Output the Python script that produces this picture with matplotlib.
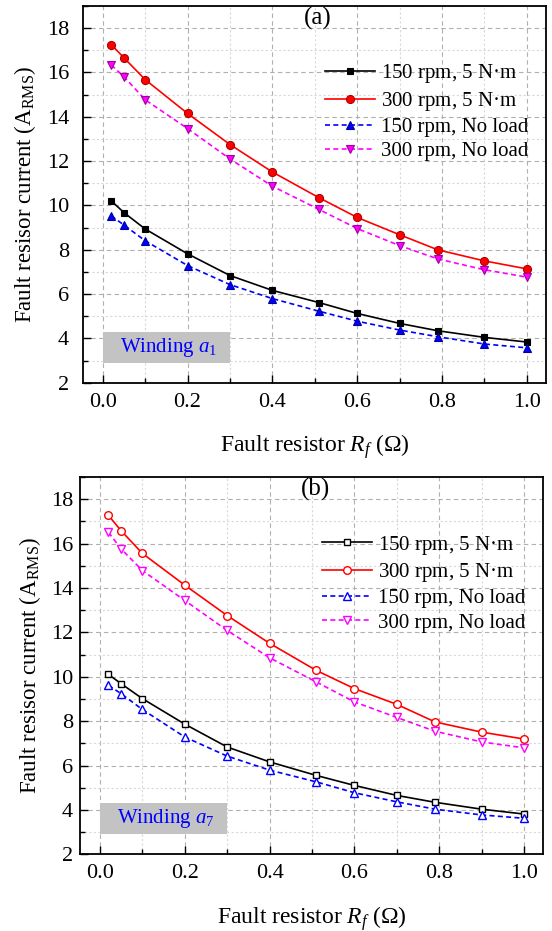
import matplotlib.pyplot as plt
from matplotlib.patches import Rectangle
from matplotlib.ticker import MultipleLocator

plt.rcParams['font.family'] = ['Liberation Serif', 'DejaVu Serif']
plt.rcParams['mathtext.fontset'] = 'custom'
plt.rcParams['mathtext.rm'] = 'Liberation Serif'
plt.rcParams['mathtext.it'] = 'Liberation Serif:italic'

# fault resistor values (ohm)
rf = [0.02, 0.05, 0.1, 0.2, 0.3, 0.4, 0.51, 0.6, 0.7, 0.79, 0.9, 1.0]

labels = ['150 rpm, 5 N$\u00b7$m', '300 rpm, 5 N$\u00b7$m',
          '150 rpm, No load', '300 rpm, No load']

# winding a1
a1_150_load = [10.21, 9.68, 8.94, 7.82, 6.84, 6.17, 5.62, 5.13, 4.68, 4.35, 4.05, 3.84]
a1_300_load = [17.26, 16.66, 15.68, 14.15, 12.75, 11.51, 10.35, 9.46, 8.68, 8.0, 7.5, 7.14]
a1_150_noload = [9.53, 9.12, 8.41, 7.29, 6.43, 5.8, 5.23, 4.78, 4.38, 4.08, 3.75, 3.58]
a1_300_noload = [16.34, 15.81, 14.77, 13.47, 12.1, 10.87, 9.82, 8.96, 8.19, 7.59, 7.1, 6.77]

# winding a7
a7_150_load = [10.11, 9.69, 9.02, 7.87, 6.84, 6.17, 5.56, 5.11, 4.66, 4.35, 4.04, 3.82]
a7_300_load = [17.27, 16.58, 15.56, 14.13, 12.76, 11.51, 10.29, 9.47, 8.76, 7.97, 7.51, 7.2]
a7_150_noload = [9.62, 9.24, 8.53, 7.29, 6.43, 5.8, 5.27, 4.78, 4.37, 4.04, 3.78, 3.63]
a7_300_noload = [16.51, 15.76, 14.79, 13.44, 12.09, 10.86, 9.77, 8.87, 8.17, 7.55, 7.07, 6.8]

styles = [
    dict(color='black', marker='s', ls='-', mec='black', ms=5),
    dict(color='red', marker='o', ls='-', mec='#b00000', ms=5.8),
    dict(color='blue', marker='^', ls=(0, (3, 2)), mec='#0000a0', ms=6),
    dict(color='magenta', marker='v', ls=(0, (3, 2)), mec='#a000a0', ms=6),
]


def draw_panel(ax, series, tag, winding, filled, ypad):
    for y, lab, st in zip(series, labels, styles):
        kw = dict(st)
        if not filled:
            kw['mec'] = st['color']
            kw['mfc'] = 'white'
            kw['ms'] = st['ms'] - 0.3
        ax.plot(rf, y, label=lab, lw=1.2, mew=0.8 if filled else 1.0, **kw)

    ax.set_xlim(-0.047, 1.045)
    ax.set_ylim(2, 19)
    ax.xaxis.set_major_locator(MultipleLocator(0.2))
    ax.xaxis.set_minor_locator(MultipleLocator(0.1))
    ax.yaxis.set_major_locator(MultipleLocator(2))
    ax.yaxis.set_minor_locator(MultipleLocator(1))
    ax.xaxis.set_major_formatter(plt.FormatStrFormatter('%.1f'))
    ax.tick_params(which='major', direction='in', length=6, width=1,
                   labelsize=16, top=False, right=False)
    ax.tick_params(which='minor', direction='in', length=3.5, width=1,
                   top=False, right=False)
    ax.tick_params(axis='x', which='major', pad=7)
    ax.tick_params(axis='y', which='major', pad=ypad)
    ax.grid(which='major', ls=(0, (4, 3)), color='#b0b0b0', lw=0.8)
    ax.grid(which='minor', ls=(0, (2, 2)), color='#d8d8d8', lw=0.8)
    ax.set_axisbelow(True)
    for sp in ax.spines.values():
        sp.set_linewidth(1.3)

    ax.set_xlabel('Fault resistor $\\mathit{R_f}$ ($\\Omega$)', fontsize=17, labelpad=15)
    ax.set_ylabel('Fault resisor current (A$_{\\mathrm{RMS}}$)', fontsize=16.5, labelpad=6)

    ax.text(0.508, 0.966, tag, transform=ax.transAxes, fontsize=18,
            ha='center', va='center')

    # grey label box behind the winding name
    ax.add_patch(Rectangle((0.0, 2.91), 0.3, 1.39, fc='#c3c3c3', ec='none', zorder=2))
    ax.text(0.04, 3.6, 'Winding $\\mathit{a_{%s}}$' % winding, color='blue',
            fontsize=15, ha='left', va='center', zorder=3)

    ax.legend(loc='upper right', bbox_to_anchor=(1.0, 0.897), frameon=False,
              fontsize=15, handlelength=2.4, handletextpad=0.3,
              labelspacing=0.22, borderaxespad=0.45)


fig = plt.figure(figsize=(5.52, 9.31), dpi=100)
ax1 = fig.add_axes([0.150, 0.5888, 0.839, 0.4048])
ax2 = fig.add_axes([0.145, 0.0822, 0.839, 0.4054])

draw_panel(ax1, [a1_150_load, a1_300_load, a1_150_noload, a1_300_noload],
           '(a)', '1', True, 10)
draw_panel(ax2, [a7_150_load, a7_300_load, a7_150_noload, a7_300_noload],
           '(b)', '7', False, 5)

fig.savefig('out.png', dpi=100)
